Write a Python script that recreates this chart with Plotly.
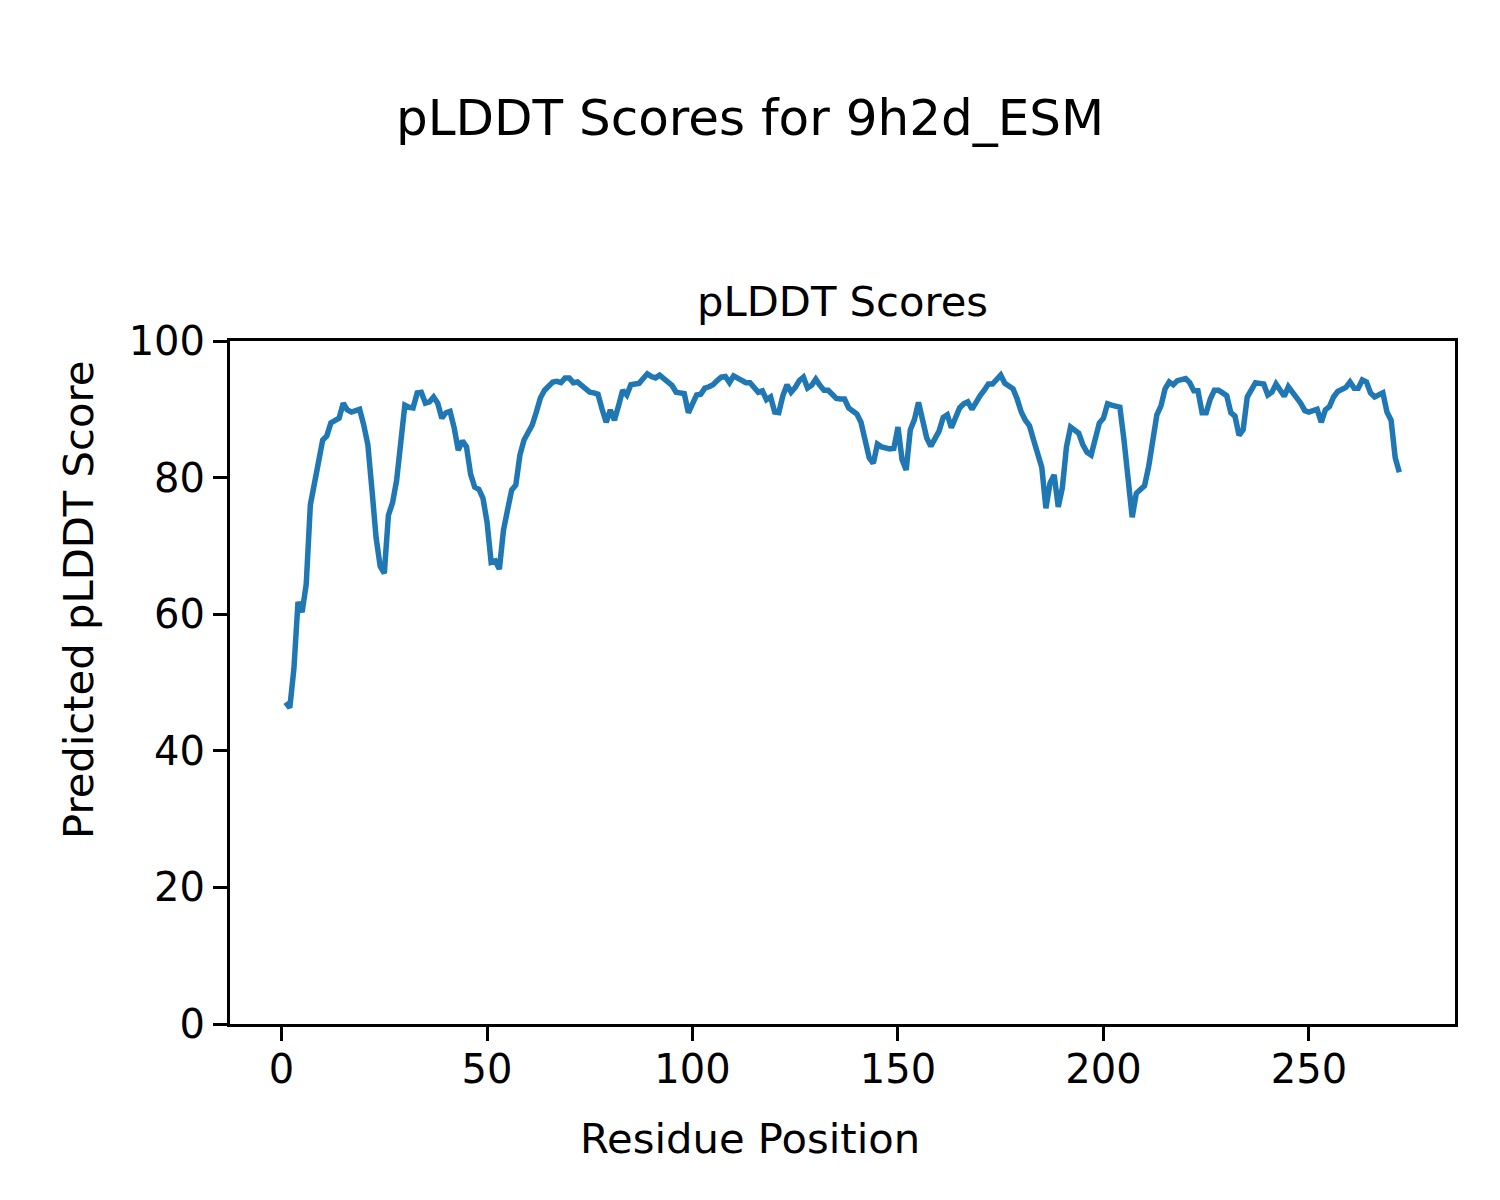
import plotly.graph_objects as go

# Residue positions 1..272 and predicted pLDDT values
residues = list(range(1, 273))
plddt = [
    47.1, 46.3, 52.0, 61.8, 60.3, 64.4, 76.0, 79.6, 82.3, 85.5,   # 1-10
    86.1, 88.0, 88.4, 88.7, 90.9, 89.9, 89.6, 89.9, 90.0, 87.7,   # 11-20
    84.8, 78.2, 71.2, 67.0, 66.0, 74.5, 76.3, 79.6, 85.5, 90.6,   # 21-30
    90.3, 90.2, 92.4, 92.5, 90.9, 91.1, 91.8, 90.9, 88.7, 89.5,   # 31-40
    89.7, 87.3, 84.0, 85.4, 84.5, 80.5, 78.6, 78.3, 77.0, 73.5,   # 41-50
    67.6, 67.8, 66.6, 72.3, 75.3, 78.2, 78.9, 83.3, 85.5, 86.7,   # 51-60
    87.7, 89.6, 91.7, 92.8, 93.4, 94.0, 94.1, 93.9, 94.6, 94.6,   # 61-70
    93.9, 94.0, 93.5, 93.0, 92.5, 92.4, 92.2, 90.0, 88.1, 89.9,   # 71-80
    88.4, 90.5, 92.8, 92.1, 93.6, 93.7, 93.8, 94.5, 95.2, 94.8,   # 81-90
    94.6, 95.0, 94.5, 94.0, 93.5, 92.5, 92.5, 92.3, 89.5, 90.8,   # 91-100
    92.1, 92.2, 93.1, 93.3, 93.6, 94.2, 94.7, 94.8, 93.9, 94.9,   # 101-110
    94.6, 94.2, 93.9, 93.9, 93.2, 92.5, 92.7, 91.4, 91.8, 89.6,   # 111-120
    89.5, 92.0, 93.6, 92.5, 93.2, 94.2, 94.7, 93.1, 93.5, 94.4,   # 121-130
    93.5, 92.8, 92.8, 92.2, 91.6, 91.5, 91.5, 90.2, 89.8, 89.3,   # 131-140
    88.1, 85.5, 82.9, 82.1, 84.9, 84.5, 84.3, 84.2, 84.3, 87.4,   # 141-150
    82.6, 81.1, 87.0, 88.5, 91.0, 88.5, 85.8, 84.6, 85.8, 86.8,   # 151-160
    88.8, 89.2, 87.3, 89.0, 90.2, 90.8, 91.1, 90.0, 91.2, 92.0,   # 161-170
    92.8, 93.7, 93.7, 94.3, 95.0, 93.8, 93.3, 93.0, 91.5, 89.6,   # 171-180
    88.4, 87.6, 85.5, 83.6, 81.5, 75.5, 79.2, 80.4, 75.7, 78.5,   # 181-190
    84.5, 87.4, 87.0, 86.5, 84.8, 83.7, 83.3, 85.5, 88.0, 88.7,   # 191-200
    90.8, 90.6, 90.4, 90.3, 85.5, 80.0, 74.2, 77.7, 78.2, 78.8,   # 201-210
    81.6, 86.0, 89.2, 90.5, 93.0, 94.0, 93.6, 94.2, 94.4, 94.5,   # 211-220
    93.9, 92.7, 92.7, 89.5, 89.5, 91.5, 92.8, 92.8, 92.4, 92.0,   # 221-230
    89.5, 89.0, 86.2, 87.0, 91.8, 92.8, 93.9, 93.8, 93.7, 92.1,   # 231-240
    92.5, 93.7, 92.8, 91.9, 93.3, 92.5, 91.8, 90.9, 89.8, 89.6,   # 241-250
    89.8, 90.0, 88.1, 89.9, 90.4, 91.8, 92.6, 92.8, 93.2, 94.0,   # 251-260
    93.1, 93.1, 94.3, 94.0, 92.4, 91.8, 92.0, 92.4, 89.6, 88.4,   # 261-270
    82.9, 80.8,                                                   # 271-272
]

x_ticks = [0, 50, 100, 150, 200, 250]
y_ticks = [0, 20, 40, 60, 80, 100]

suptitle = "pLDDT Scores for 9h2d_ESM"
ax_title = "pLDDT Scores"
x_label = "Residue Position"
y_label = "Predicted pLDDT Score"

FONT = "DejaVu Sans"
W, H = 1500, 1200
OFF = 8  # page body margin compensation
# target plot area in the picture: x 230..1455, y 341..1024
L, T = 230 - OFF, 341 - OFF
pw, ph = 1225, 683
R = W - L - pw
B = H - T - ph

span = residues[-1] - residues[0]
xr = [residues[0] - 0.05 * span, residues[-1] + 0.05 * span]

fig = go.Figure()
fig.add_trace(go.Scatter(
    x=residues, y=plddt, mode="lines",
    line=dict(color="#1f77b4", width=5.5),
    showlegend=False,
))

axis_common = dict(
    showgrid=False, zeroline=False, showline=True, linecolor="black",
    linewidth=3, mirror=True, ticks="outside", ticklen=14, tickwidth=3,
    tickcolor="black", tickfont=dict(family=FONT, size=40, color="black"),
)

def py(y_img):
    # picture y pixel -> paper fraction
    return (1024 - y_img) / ph

def px(x_img):
    return (x_img - 230) / pw

fig.update_layout(
    width=W, height=H,
    margin=dict(l=L, r=R, t=T, b=B, pad=0),
    paper_bgcolor="white", plot_bgcolor="white",
    font=dict(family=FONT, color="black"),
    xaxis=dict(range=xr, tickvals=x_ticks, ticktext=[str(v) for v in x_ticks],
               ticklabelstandoff=-6, **axis_common),
    yaxis=dict(range=[0, 100], tickvals=y_ticks, ticktext=[str(v) for v in y_ticks],
               ticklabelstandoff=0, **axis_common),
)

fig.add_annotation(text=suptitle, xref="paper", yref="paper",
                   x=px(750), y=py(118), xanchor="center", yanchor="middle",
                   showarrow=False, font=dict(family=FONT, size=50, color="black"))
fig.add_annotation(text=ax_title, xref="paper", yref="paper",
                   x=0.5, y=py(302), xanchor="center", yanchor="middle",
                   showarrow=False, font=dict(family=FONT, size=41.7, color="black"))
fig.add_annotation(text=x_label, xref="paper", yref="paper",
                   x=px(750), y=py(1138), xanchor="center", yanchor="middle",
                   showarrow=False, font=dict(family=FONT, size=41.7, color="black"))
fig.add_annotation(text=y_label, xref="paper", yref="paper", textangle=-90,
                   x=px(78), y=py(600), xanchor="center", yanchor="middle",
                   showarrow=False, font=dict(family=FONT, size=41.7, color="black"))

fig.write_html("out.html")
